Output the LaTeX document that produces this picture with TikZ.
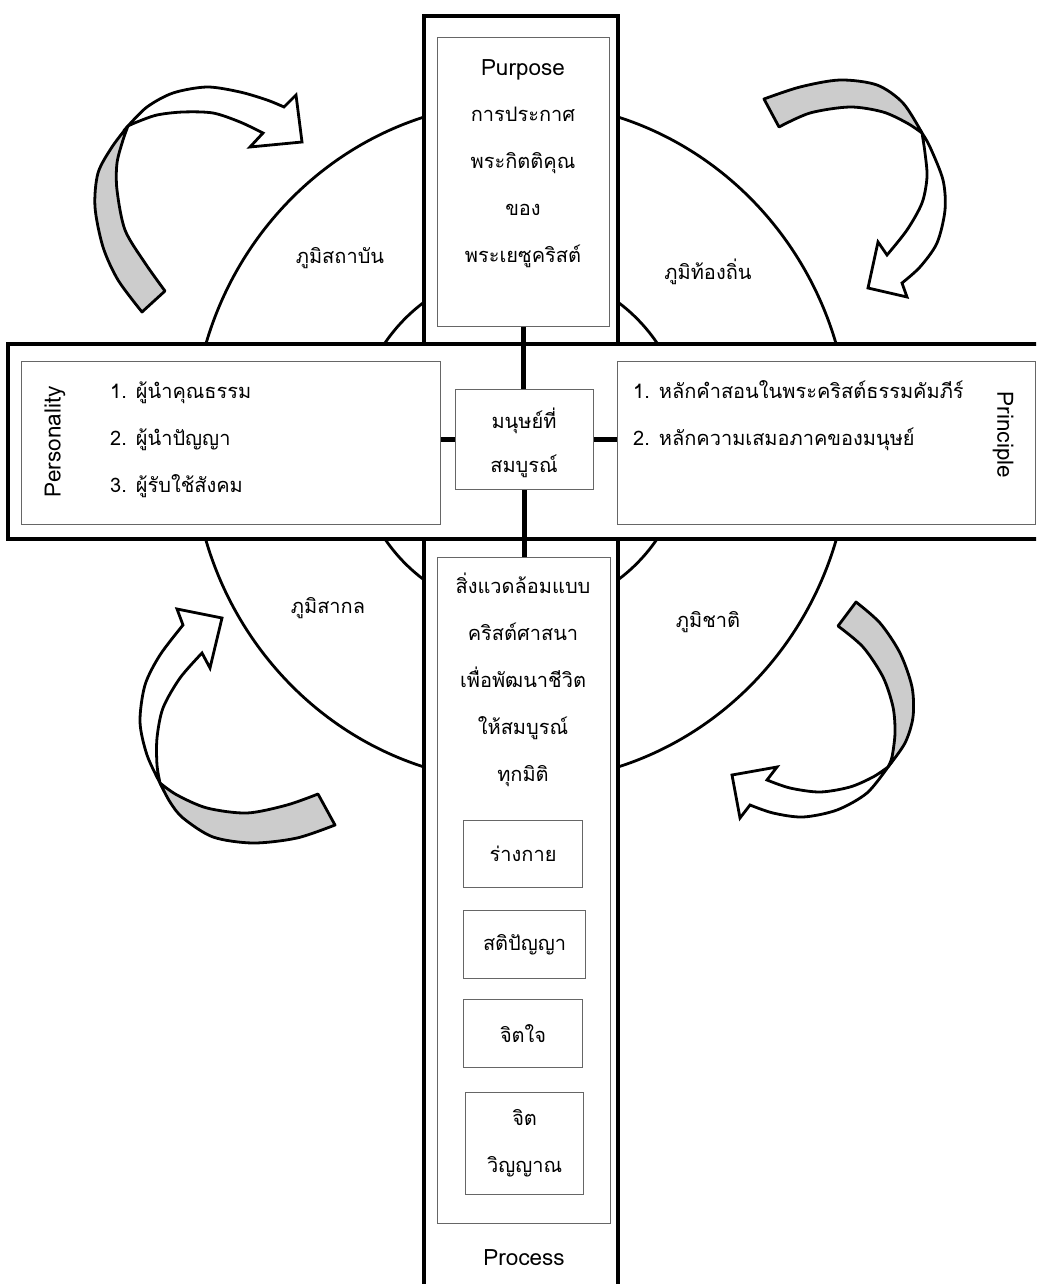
\documentclass[tikz,border=0pt]{standalone}
\usepackage{fontspec}
\setmainfont[Script=Thai]{Loma}
\begin{document}
\begin{tikzpicture}[x=1pt,y=-1pt,
  thinbox/.style={draw=black!60, line width=1.2pt, fill=white, inner sep=0pt, anchor=north west, align=center, font=\fontsize{20}{47}\selectfont},
  outerbar/.style={draw=black, line width=4pt, fill=white},
  link/.style={line width=5.5pt, draw=black},
  ring/.style={draw=black, line width=2.8pt},
  txt/.style={font=\fontsize{20}{47}\selectfont, align=center, inner sep=0pt, text=black},
  latin/.style={font=\fontsize{22.5}{47}\selectfont, inner sep=0pt, text=black},
  lbl/.style={font=\fontsize{20}{40}\selectfont, inner sep=0pt, text=black},
  backband/.style={draw=black, line width=2.8pt, fill=black!20, line join=round},
  frontband/.style={draw=black, line width=2.8pt, fill=white, line join=miter},
]
\useasboundingbox (0,0) rectangle (1036,1284);
\clip (0,0) rectangle (1036,1284);
\fill[white] (0,0) rectangle (1036,1284);

% rings
\draw[ring] (521,442) ellipse [x radius=329pt, y radius=340pt];
\draw[ring] (521,441) ellipse [x radius=166pt, y radius=171pt];

% cross bars
\draw[outerbar] (424,16) rectangle (618,1310);
\draw[outerbar] (8,344) rectangle (1050,539);

% inner boxes
\node[thinbox, minimum width=172pt, minimum height=289pt] (purpose) at (437,37) {};
\node[thinbox, minimum width=419pt, minimum height=163pt] (personality) at (21,361) {};
\node[thinbox, minimum width=418pt, minimum height=163pt] (principle) at (617,361) {};
\node[thinbox, minimum width=138pt, minimum height=100pt] (center) at (455,389) {};
\node[thinbox, minimum width=173pt, minimum height=666pt] (process) at (437,557) {};

% connectors
\draw[link] (purpose.south) -- (purpose.south |- center.north);
\draw[link] (center.south) -- (center.south |- process.north);
\draw[link] (center.west) -- (center.west -| personality.east);
\draw[link] (center.east) -- (center.east -| principle.west);

% sub boxes
\node[thinbox, minimum width=119pt, minimum height=67pt] (body) at (463,820) {ร่างกาย};
\node[thinbox, minimum width=122pt, minimum height=68pt] (mind) at (463,910) {สติปัญญา};
\node[thinbox, minimum width=119pt, minimum height=68pt] (heart) at (463,999) {จิตใจ};
\node[thinbox, minimum width=118pt, minimum height=102pt] (spirit) at (465,1092) {จิต\\วิญญาณ};

% texts
\node[latin] (purposehead) at (523,70) {Purpose};
\node[txt] (purposetxt) at (523,187) {การประกาศ\\พระกิตติคุณ\\ของ\\พระเยซูคริสต์};
\node[txt, align=left, anchor=west] (perslist) at (110,440) {1. ผู้นำคุณธรรม\\2. ผู้นำปัญญา\\3. ผู้รับใช้สังคม};
\node[txt, align=left, anchor=west] (princlist) at (633,416) {1. หลักคำสอนในพระคริสต์ธรรมคัมภีร์\\2. หลักความเสมอภาคของมนุษย์};
\node[txt, font=\fontsize{20}{44}\selectfont] (centertxt) at (524,443) {มนุษย์ที่\\สมบูรณ์};
\node[txt] (proctxt) at (523,680) {สิ่งแวดล้อมแบบ\\คริสต์ศาสนา\\เพื่อพัฒนาชีวิต\\ให้สมบูรณ์\\ทุกมิติ};
\node[latin] (proclabel) at (524,1258) {Process};
\node[latin, rotate=90] (perslabel) at (55,442) {Personality};
\node[latin, rotate=-90] (princlabel) at (1003,435) {Principle};

\node[lbl] (inst) at (340,258) {ภูมิสถาบัน};
\node[lbl] (local) at (708,272) {ภูมิท้องถิ่น};
\node[lbl] (univ) at (328,608) {ภูมิสากล};
\node[lbl] (nation) at (708,622) {ภูมิชาติ};

% top-left arrow
\filldraw[backband] plot[smooth] coordinates {(142,312) (118,280) (103,247) (95,207) (98,173) (112,147) (128,126)}
  -- plot[smooth] coordinates {(128,126) (123,140) (117,163) (117,190) (125,230) (145,263) (165,291)} -- cycle;
\filldraw[frontband] plot[smooth] coordinates {(128,126) (147,107) (173,93) (207,87) (240,92) (267,100) (284,107)}
  -- (296,95) -- (302,142) -- (250,147) -- (263,133)
  -- plot[smooth] coordinates {(263,133) (240,122) (213,113) (183,112) (157,115) (137,122) (128,126)} -- cycle;

% top-right arrow
\filldraw[backband] plot[smooth] coordinates {(764,99) (800,87) (840,80) (877,85) (903,103) (922,133)}
  -- plot[smooth] coordinates {(922,133) (907,123) (883,112) (850,107) (810,113) (779,127)} -- cycle;
\filldraw[frontband] plot[smooth] coordinates {(922,133) (930,147) (943,180) (945,210) (937,243) (920,267) (902,283)}
  -- (907,297) -- (868,288) -- (878,242) -- (887,255)
  -- plot[smooth] coordinates {(887,255) (907,230) (922,203) (927,177) (925,153) (922,133)} -- cycle;

% bottom-left arrow
\filldraw[backband] plot[smooth] coordinates {(318,794) (287,805) (247,813) (207,808) (177,795) (160,783)}
  -- plot[smooth] coordinates {(160,783) (170,802) (183,818) (213,837) (253,843) (297,838) (335,825)} -- cycle;
\filldraw[frontband] plot[smooth] coordinates {(160,783) (147,755) (140,722) (145,685) (160,655) (183,625)}
  -- (177,609) -- (222,618) -- (210,668) -- (202,653)
  -- plot[smooth] coordinates {(202,653) (180,678) (163,708) (157,738) (157,765) (160,783)} -- cycle;

% bottom-right arrow
\filldraw[backband] plot[smooth] coordinates {(856,602) (880,623) (900,653) (912,687) (913,717) (905,743) (888,767)}
  -- plot[smooth] coordinates {(888,767) (892,757) (895,733) (893,707) (883,677) (863,647) (838,626)} -- cycle;
\filldraw[frontband] plot[smooth] coordinates {(888,767) (867,793) (837,810) (803,817) (773,813) (750,805)}
  -- (740,818) -- (732,775) -- (777,767) -- (767,780)
  -- plot[smooth] coordinates {(767,780) (790,788) (820,792) (850,787) (873,777) (888,767)} -- cycle;
\end{tikzpicture}
\end{document}
